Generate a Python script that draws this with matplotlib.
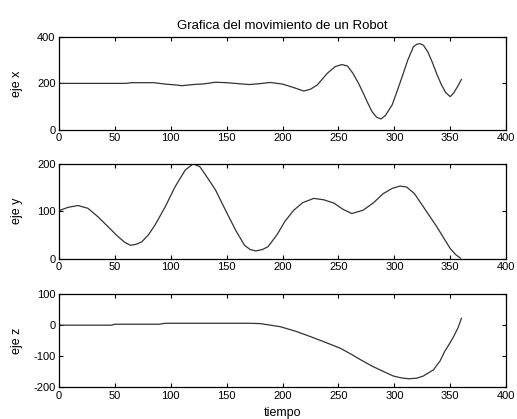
import numpy as np
import matplotlib
matplotlib.use('Agg')
import matplotlib.pyplot as plt

plt.rcParams['font.family'] = ['Liberation Sans', 'DejaVu Sans']
plt.rcParams['axes.unicode_minus'] = False

# eje x
tx = [0, 20, 40, 60, 65, 85, 95, 105, 110, 120, 130, 140, 150, 160, 170, 180, 189,
      200, 210, 219, 225, 231, 240, 247, 253, 258, 263, 268, 272, 276, 280, 284, 288,
      292, 298, 302, 307, 312, 317, 320, 323, 326, 330, 334, 338, 342, 346, 350,
      353, 357, 360]
ex = [200, 200, 200, 200, 203, 203, 197, 193, 190, 195, 198, 205, 203, 199, 195, 199, 204,
      197, 182, 167, 175, 193, 243, 272, 281, 275, 243, 200, 160, 118, 79, 55, 47,
      62, 107, 160, 229, 300, 357, 368, 371, 364, 335, 290, 240, 195, 160, 143,
      158, 190, 217]

# eje y
ty = [0, 8, 17, 26, 35, 44, 53, 59, 64, 69, 74, 80, 86, 95, 104, 113, 120, 126, 131,
      140, 149, 158, 166, 171, 176, 182, 187, 195, 202, 210, 218, 228, 237, 246,
      254, 262, 272, 281, 290, 298, 305, 311, 318, 326, 332, 338, 344, 350, 355, 359]
ey = [101, 108, 112, 106, 88, 67, 46, 34, 28, 30, 35, 50, 71, 109, 152, 187, 200, 194, 177,
      145, 102, 60, 28, 19, 16, 19, 25, 50, 78, 102, 118, 127, 124, 117,
      104, 95, 102, 117, 137, 148, 153, 151, 137, 109, 88, 67, 44, 21, 8, 1]

# eje z
tz = [0, 47, 50, 90, 95, 160, 170, 180, 198, 212, 225, 238, 252, 262, 270, 280, 287,
      299, 306, 313, 320, 326, 335, 341, 345, 349, 353, 357, 360]
ez = [0, 0, 3, 3, 6, 6, 6, 5, -5, -20, -37, -55, -75, -95, -112, -132, -144,
      -164, -170, -173, -171, -164, -144, -115, -85, -62, -37, -8, 22]

fig = plt.figure(figsize=(5.17, 4.19), dpi=100)

boxes = [[0.114, 0.690, 0.865, 0.222],
         [0.114, 0.383, 0.865, 0.226],
         [0.114, 0.076, 0.865, 0.222]]
series = [(tx, ex, 'eje x', (0, 400), [0, 200, 400]),
          (ty, ey, 'eje y', (0, 200), [0, 100, 200]),
          (tz, ez, 'eje z', (-200, 100), [-200, -100, 0, 100])]

axes = []
for box, (t, v, lab, yl, yt) in zip(boxes, series):
    ax = fig.add_axes(box)
    ax.plot(t, v, color='#333333', lw=0.9)
    ax.set_xlim(0, 400)
    ax.set_ylim(*yl)
    ax.set_yticks(yt)
    ax.set_xticks(range(0, 401, 50))
    ax.set_ylabel(lab, fontsize=9)
    ax.yaxis.set_label_coords(-0.08, 0.5)
    ax.tick_params(direction='in', top=True, right=True, labelsize=8,
                   length=3, width=0.8, pad=2.5)
    for s in ax.spines.values():
        s.set_linewidth(0.9)
    axes.append(ax)

axes[0].set_title('Grafica del movimiento de un Robot', fontsize=9.5, pad=5.5)
axes[2].set_xlabel('tiempo', fontsize=9, labelpad=4.5)

fig.savefig('out.png', dpi=100)
